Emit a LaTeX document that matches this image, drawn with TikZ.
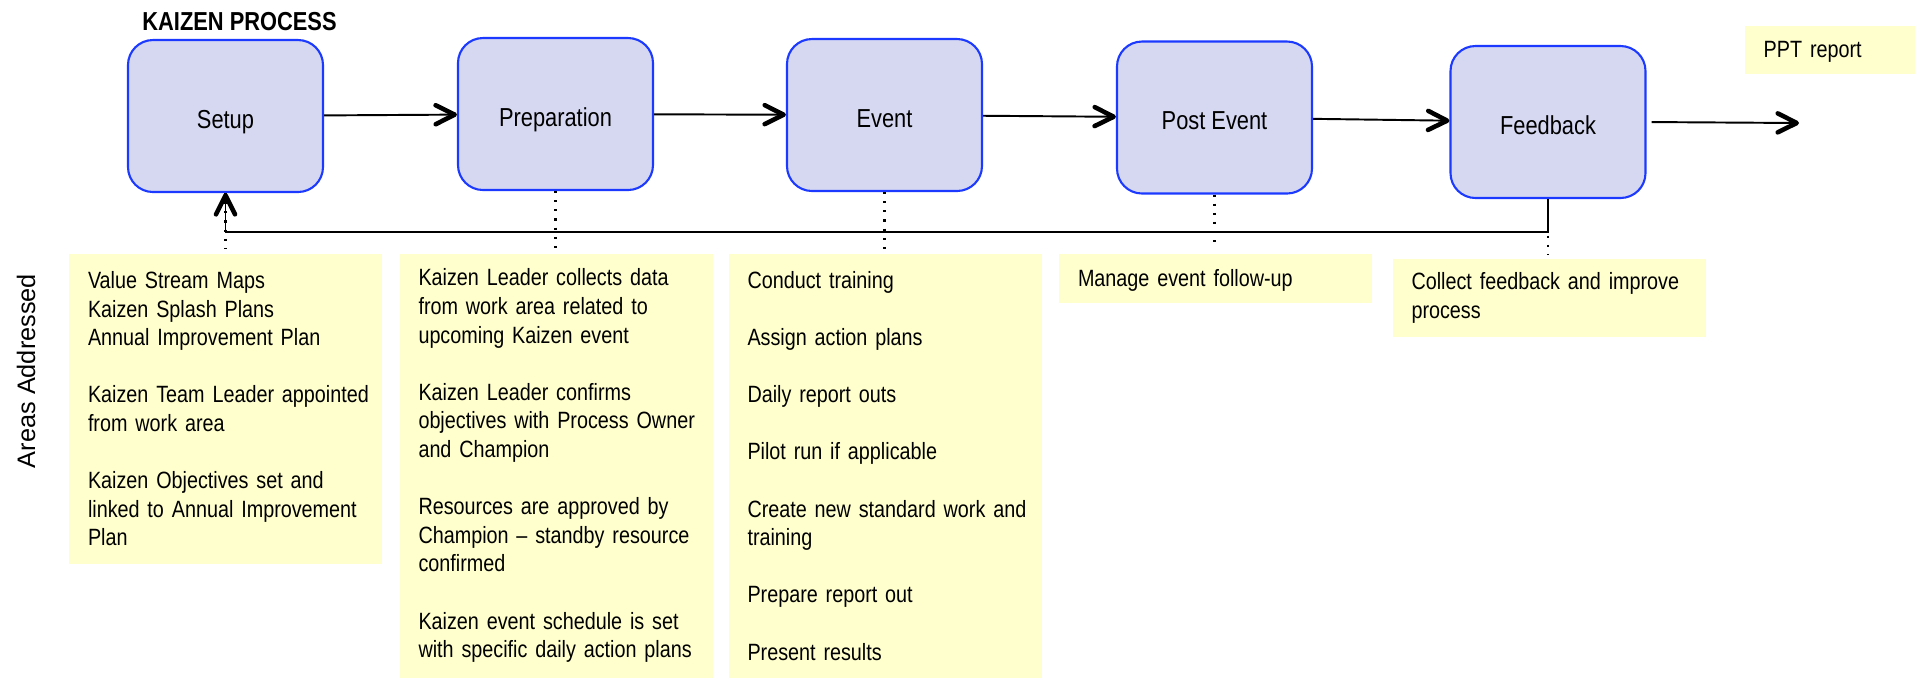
\documentclass[tikz,border=0pt]{standalone}
\usepackage{fontspec}
\setmainfont{Liberation Sans}[FakeStretch=0.84]
\newfontfamily\widesans{Liberation Sans}
\usetikzlibrary{arrows.meta}

\definecolor{stagefill}{RGB}{214,216,242}
\definecolor{stageline}{RGB}{28,58,255}
\definecolor{notefill}{RGB}{255,255,206}

\tikzset{
  stage/.style={draw=stageline, fill=stagefill, line width=0.6pt, rounded corners=0.25cm,
    minimum width=1.95cm, minimum height=1.52cm, text height=0.24cm, text depth=0cm,
    font=\fontsize{7.4}{9}\selectfont},
  note/.style={fill=notefill, anchor=north, text width=3.13cm, inner xsep=0pt, inner ysep=0pt,
    align=left, font=\fontsize{6.7}{8.14}\selectfont, execute at begin node={\leftskip=0.19cm}},
  flow/.style={line width=0.55pt, -{Straight Barb[length=1.9mm,width=1.9mm,line width=1.3pt,round]}},
  link/.style={dotted, line width=0.6pt}
}

\begin{document}
\begin{tikzpicture}
\useasboundingbox (0,0) rectangle (19.19,-6.77);

\node[anchor=base west, font=\bfseries\fontsize{7.4}{9}\selectfont] (title) at (1.30,-0.30) {KAIZEN PROCESS};

\foreach \name/\x/\y/\txt in {setup/2.255/-1.16/Setup, prep/5.555/-1.14/Preparation, event/8.845/-1.15/Event, post/12.145/-1.175/Post Event, feedback/15.48/-1.22/Feedback}
  \node[stage] (\name) at (\x,\y) {\txt};

\node[note, minimum height=3.10cm] (setupnote) at (2.255,-2.53) {Value Stream Maps\\Kaizen Splash Plans\\Annual Improvement Plan\\[\baselineskip]Kaizen Team Leader appointed\\from work area\\[\baselineskip]Kaizen Objectives set and\\linked to Annual Improvement\\Plan};
\node[note, minimum height=4.24cm] (prepnote) at (5.56,-2.53) {Kaizen Leader collects data\\from work area related to\\upcoming Kaizen event\\[\baselineskip]Kaizen Leader confirms\\objectives with Process Owner\\and Champion\\[\baselineskip]Resources are approved by\\Champion -- standby resource\\confirmed\\[\baselineskip]Kaizen event schedule is set\\with specific daily action plans};
\node[note, minimum height=4.24cm] (eventnote) at (8.85,-2.53) {Conduct training\\[\baselineskip]Assign action plans\\[\baselineskip]Daily report outs\\[\baselineskip]Pilot run if applicable\\[\baselineskip]Create new standard work and\\training\\[\baselineskip]Prepare report out\\[\baselineskip]Present results};
\node[note, minimum height=0.49cm, text depth=0pt] (postnote) at (12.155,-2.53) {Manage event follow-up};
\node[note, minimum height=0.78cm] (feedbacknote) at (15.49,-2.58) {Collect feedback and improve\\process};
\node[note, anchor=north west, text width=1.70cm, minimum height=0.48cm, text depth=0pt] (ppt) at (17.44,-0.25) {PPT report};

\node[rotate=90, font=\widesans\fontsize{7.2}{9}\selectfont] (areas) at (0.26,-3.71) {Areas Addressed};

\foreach \a/\b in {setup/prep, prep/event, event/post, post/feedback}
  \draw[flow] (\a) -- (\b);
\coordinate (out) at (17.99,-1.23);
\draw[flow, shorten <=0.05cm] (feedback.east) -- (out);

\foreach \a/\b in {setup/setupnote, prep/prepnote, event/eventnote, post/postnote, feedback/feedbacknote}
  \draw[link, shorten >=0.04cm] (\a.south) -- (\a.south |- \b.north);

\draw[flow] (feedback.south) -- ++(0,-0.33) -| (setup.south);
\end{tikzpicture}
\end{document}
